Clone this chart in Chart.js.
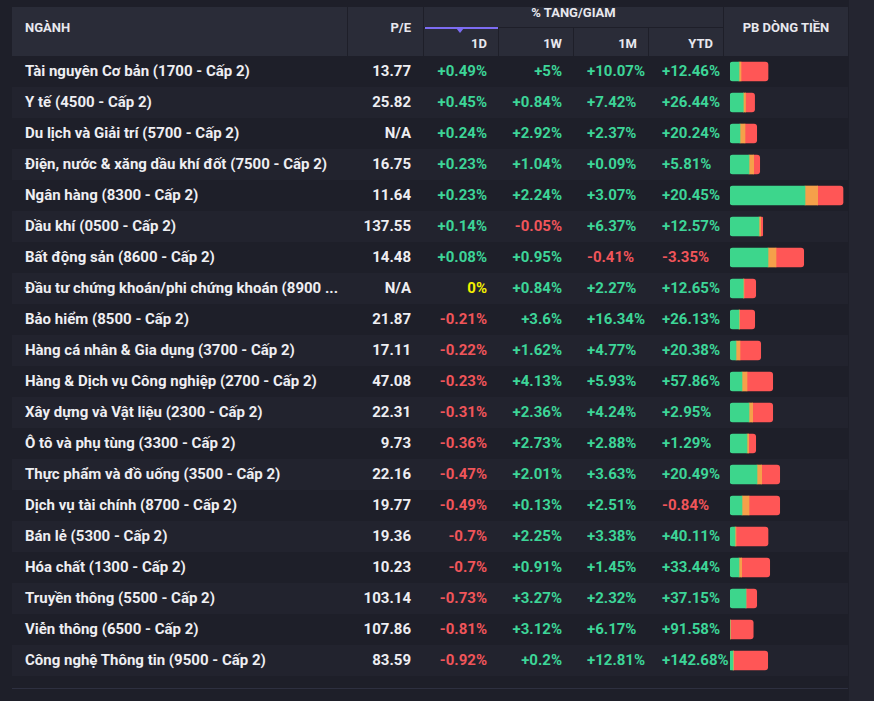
<!DOCTYPE html>
<html>
<head>
<meta charset="utf-8">
<script src="https://cdn.jsdelivr.net/npm/chart.js@4"></script>
<style>
  html, body { margin: 0; padding: 0; }
  body {
    width: 874px; height: 701px; overflow: hidden; position: relative;
    background: #1e1f29; font-family: 'Roboto', sans-serif; font-weight: 700;
  }
  .side { position: absolute; left: 849px; top: 0; width: 25px; height: 701px; background: #242530; }
  .hcell { position: absolute; background: #2a2c38; color: #e8e8ee; font-size: 13px; }
  .hcell span { position: absolute; white-space: nowrap; line-height: 15px; }
  .sortbar { position: absolute; left: 425px; top: 27px; width: 73px; height: 2px; background: #7c6cf2; }
  .sortarrow { position: absolute; left: 456px; top: 28px; width: 0; height: 0;
    border-left: 4px solid transparent; border-right: 4px solid transparent; border-top: 5px solid #7c6cf2; }
  .row { position: absolute; left: 12px; width: 836px; height: 31px; }
  .row.alt { background: #22232e; }
  .cell { position: absolute; top: 0; line-height: 31px; font-size: 15px; white-space: nowrap; color: #eeeef2; }
  .up { color: #3dd598; }
  .down { color: #f0555a; }
  .flat { color: #f4f000; }
  .bottomline { position: absolute; left: 12px; top: 688px; width: 836px; height: 1px; background: #2e3040; }
  #flowChart { position: absolute; left: 724px; top: 56px; }
</style>
</head>
<body>
<div class="side"></div>
<div id="header"></div>
<div id="rows"></div>
<div class="bottomline"></div>
<canvas id="flowChart" width="124" height="620"></canvas>

<script>
const sectors = [
  'Tài nguyên Cơ bản (1700 - Cấp 2)',
  'Y tế (4500 - Cấp 2)',
  'Du lịch và Giải trí (5700 - Cấp 2)',
  'Điện, nước & xăng dầu khí đốt (7500 - Cấp 2)',
  'Ngân hàng (8300 - Cấp 2)',
  'Dầu khí (0500 - Cấp 2)',
  'Bất động sản (8600 - Cấp 2)',
  'Đầu tư chứng khoán/phi chứng khoán (8900 ...',
  'Bảo hiểm (8500 - Cấp 2)',
  'Hàng cá nhân & Gia dụng (3700 - Cấp 2)',
  'Hàng & Dịch vụ Công nghiệp (2700 - Cấp 2)',
  'Xây dựng và Vật liệu (2300 - Cấp 2)',
  'Ô tô và phụ tùng (3300 - Cấp 2)',
  'Thực phẩm và đồ uống (3500 - Cấp 2)',
  'Dịch vụ tài chính (8700 - Cấp 2)',
  'Bán lẻ (5300 - Cấp 2)',
  'Hóa chất (1300 - Cấp 2)',
  'Truyền thông (5500 - Cấp 2)',
  'Viễn thông (6500 - Cấp 2)',
  'Công nghệ Thông tin (9500 - Cấp 2)'
];

const pe = [13.77, 25.82, null, 16.75, 11.64, 137.55, 14.48, null, 21.87, 17.11,
            47.08, 22.31, 9.73, 22.16, 19.77, 19.36, 10.23, 103.14, 107.86, 83.59];

const change1D = [0.49, 0.45, 0.24, 0.23, 0.23, 0.14, 0.08, 0, -0.21, -0.22,
                  -0.23, -0.31, -0.36, -0.47, -0.49, -0.7, -0.7, -0.73, -0.81, -0.92];
const change1W = [5, 0.84, 2.92, 1.04, 2.24, -0.05, 0.95, 0.84, 3.6, 1.62,
                  4.13, 2.36, 2.73, 2.01, 0.13, 2.25, 0.91, 3.27, 3.12, 0.2];
const change1M = [10.07, 7.42, 2.37, 0.09, 3.07, 6.37, -0.41, 2.27, 16.34, 4.77,
                  5.93, 4.24, 2.88, 3.63, 2.51, 3.38, 1.45, 2.32, 6.17, 12.81];
const changeYTD = [12.46, 26.44, 20.24, 5.81, 20.45, 12.57, -3.35, 12.65, 26.13, 20.38,
                   57.86, 2.95, 1.29, 20.49, -0.84, 40.11, 33.44, 37.15, 91.58, 142.68];

// money flow split (inflow / neutral / outflow)
const flowIn  = [9, 13.3, 10, 19, 75, 29, 38, 13.3, 9, 6, 12, 19, 17, 27, 12, 5, 9, 16, 0, 3];
const flowMid = [2, 2.3, 5, 4.7, 12.7, 1.7, 8, 0.7, 0.7, 4, 5, 3.7, 1.7, 4.7, 7, 1, 2.7, 0, 0.5, 0.7];
const flowOut = [27, 9, 11.7, 6, 25.3, 2, 27.7, 11.7, 15, 20.7, 25.7, 20, 7, 18, 30.7, 32, 28, 10.7, 22.7, 34];

const rowTop = 56;
const rowHeight = 31;

function fmtChange(v) {
  if (v > 0) return { text: `+${v}%`, cls: 'up' };
  if (v < 0) return { text: `${v}%`, cls: 'down' };
  return { text: '0%', cls: 'flat' };
}

function buildHeader() {
  const header = document.getElementById('header');
  header.innerHTML = `
    <div class="hcell" style="left:12px;top:7px;width:335px;height:49px"><span style="left:13px;top:13px">NGÀNH</span></div>
    <div class="hcell" style="left:348px;top:7px;width:75px;height:49px"><span style="right:12px;top:13px">P/E</span></div>
    <div class="hcell" style="left:424px;top:7px;width:299px;height:20px"><span style="left:0;width:299px;text-align:center;top:-2px">% TANG/GIAM</span></div>
    <div class="hcell" style="left:424px;top:28px;width:74px;height:28px"><span style="right:11px;top:8px">1D</span></div>
    <div class="hcell" style="left:499px;top:28px;width:74px;height:28px"><span style="right:11px;top:8px">1W</span></div>
    <div class="hcell" style="left:574px;top:28px;width:74px;height:28px"><span style="right:11px;top:8px">1M</span></div>
    <div class="hcell" style="left:649px;top:28px;width:74px;height:28px"><span style="right:10px;top:8px">YTD</span></div>
    <div class="hcell" style="left:724px;top:7px;width:124px;height:49px"><span style="left:0;width:124px;text-align:center;top:13px">PB DÒNG TIỀN</span></div>
    <div class="sortbar"></div>
    <div class="sortarrow"></div>
  `;
}

function buildRows() {
  const rows = document.getElementById('rows');
  let html = '';
  for (let i = 0; i < sectors.length; i++) {
    const d = fmtChange(change1D[i]);
    const w = fmtChange(change1W[i]);
    const m = fmtChange(change1M[i]);
    const y = fmtChange(changeYTD[i]);
    const peText = pe[i] === null ? 'N/A' : pe[i].toFixed(2);
    html += `
      <div class="row${i % 2 === 1 ? ' alt' : ''}" style="top:${rowTop + i * rowHeight}px">
        <div class="cell" style="left:13px">${sectors[i]}</div>
        <div class="cell" style="right:437px">${peText}</div>
        <div class="cell ${d.cls}" style="right:361px">${d.text}</div>
        <div class="cell ${w.cls}" style="right:286px">${w.text}</div>
        <div class="cell ${m.cls}" style="left:575px">${m.text}</div>
        <div class="cell ${y.cls}" style="left:650px">${y.text}</div>
      </div>`;
  }
  rows.innerHTML = html;
}

function drawFlowChart() {
  const ctx = document.getElementById('flowChart').getContext('2d');
  const barStyle = { barThickness: 19, borderRadius: 3, borderSkipped: 'middle' };
  new Chart(ctx, {
    type: 'bar',
    data: {
      labels: sectors,
      datasets: [
        { label: 'Vào', data: flowIn, backgroundColor: '#3dd68c', ...barStyle },
        { label: 'Trung tính', data: flowMid, backgroundColor: '#f5a04a', ...barStyle },
        { label: 'Ra', data: flowOut, backgroundColor: '#ff5656', ...barStyle }
      ]
    },
    options: {
      indexAxis: 'y',
      responsive: false,
      animation: false,
      layout: { padding: { left: 6, right: 0, top: 0, bottom: 0 } },
      plugins: { legend: { display: false }, tooltip: { enabled: false } },
      scales: {
        x: { stacked: true, min: 0, max: 118, display: false },
        y: { stacked: true, display: false }
      }
    }
  });
}

buildHeader();
buildRows();
drawFlowChart();
</script>
</body>
</html>
